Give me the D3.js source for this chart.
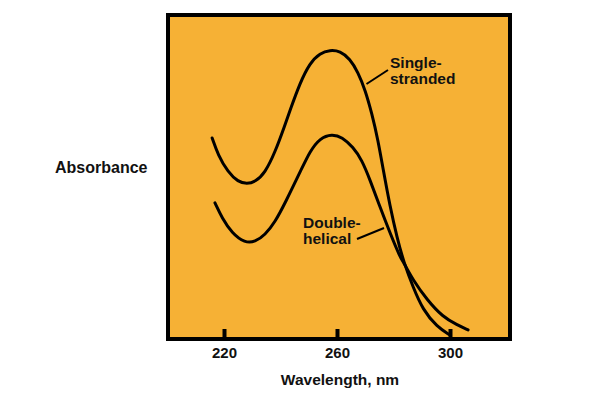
<!DOCTYPE html>
<html>
<head>
<meta charset="utf-8">
<script src="https://cdn.jsdelivr.net/npm/d3@7"></script>
<style>
html,body{margin:0;padding:0;background:#fff;}
svg{display:block;}
text{font-family:"Liberation Sans",Arial,Helvetica,sans-serif;font-weight:bold;fill:#111;}
</style>
</head>
<body>
<svg id="chart" width="600" height="400"></svg>
<script>
// Wavelength (nm) and relative absorbance
const ssWavelength = [215.8, 217.9, 221.4, 225.0, 228.1, 231.0, 234.5, 238.1, 241.6, 243.4, 246.9, 250.4, 254.0, 257.5, 261.1, 264.6, 267.4, 270.0, 272.3, 274.5, 276.3, 278.8, 281.2, 283.7, 286.9, 290.4, 295.4, 300.0];
const ssAbsorbance = [61.9, 56.7, 51.5, 48.5, 47.9, 48.5, 51.2, 57.6, 65.9, 70.4, 78.7, 84.8, 87.8, 88.7, 88.4, 86.0, 82.0, 76.5, 69.5, 61.3, 52.5, 40.9, 31.7, 23.8, 16.5, 9.5, 4.3, 1.8];
const dhWavelength = [216.8, 219.3, 222.8, 227.4, 231.0, 234.5, 238.1, 241.6, 247.6, 250.4, 254.0, 258.2, 261.8, 265.7, 268.8, 271.7, 275.2, 278.8, 282.3, 283.7, 286.9, 291.9, 297.5, 302.5, 306.4];
const dhAbsorbance = [42.1, 37.5, 32.9, 29.9, 30.2, 32.3, 36.3, 42.0, 52.7, 57.8, 61.9, 63.1, 62.2, 59.1, 55.2, 49.1, 40.9, 32.9, 25.6, 23.8, 18.6, 12.5, 7.3, 4.9, 3.4];
const tickValues = [220, 260, 300];
const xTitle = "Wavelength, nm";
const yTitle = "Absorbance";
const seriesLabels = [["Single-", "stranded"], ["Double-", "helical"]];

const svg = d3.select("#chart");
const x = d3.scaleLinear().domain([220, 300]).range([224, 450]);
const y = d3.scaleLinear().domain([0, 100]).range([341, 13]);

// panel
svg.append("rect").attr("x", 168).attr("y", 15).attr("width", 342).attr("height", 324)
  .attr("fill", "#F6B135").attr("stroke", "#000").attr("stroke-width", 4);

// axis ticks (inward)
const axis = d3.axisBottom(x).tickValues(tickValues).tickSize(-8).tickFormat(d3.format("d"));
const gAxis = svg.append("g").attr("transform", "translate(0,337)").call(axis);
gAxis.select(".domain").remove();
gAxis.selectAll(".tick line").attr("stroke", "#000").attr("stroke-width", 4);
gAxis.selectAll(".tick text").attr("y", 21).attr("dy", null)
  .style("font-size", "15px").style("font-family", "Liberation Sans, Arial, sans-serif")
  .style("font-weight", "bold").attr("fill", "#111");

// curves
const line = d3.line().x(d => x(d[0])).y(d => y(d[1])).curve(d3.curveBasis);
const ss = ssWavelength.map((w, i) => [w, ssAbsorbance[i]]);
const dh = dhWavelength.map((w, i) => [w, dhAbsorbance[i]]);
[ss, dh].forEach(s => {
  svg.append("path").attr("d", line(s)).attr("fill", "none")
    .attr("stroke", "#000").attr("stroke-width", 3).attr("stroke-linecap", "round");
});

// labels
function label(lines, x0, y0) {
  const t = svg.append("text").attr("x", x0).attr("y", y0).style("font-size", "15.5px");
  lines.forEach((l, i) => t.append("tspan").attr("x", x0).attr("dy", i === 0 ? 0 : 16).text(l));
}
label(seriesLabels[0], 390, 68);
label(seriesLabels[1], 303, 228);
svg.append("line").attr("x1", 366.5).attr("y1", 84).attr("x2", 388).attr("y2", 70)
  .attr("stroke", "#000").attr("stroke-width", 2);
svg.append("line").attr("x1", 357).attr("y1", 239).attr("x2", 384).attr("y2", 228)
  .attr("stroke", "#000").attr("stroke-width", 2);

svg.append("text").attr("x", 340).attr("y", 385).attr("text-anchor", "middle")
  .style("font-size", "15.5px").text(xTitle);
svg.append("text").attr("x", 55).attr("y", 173)
  .style("font-size", "16px").text(yTitle);
</script>
</body>
</html>
